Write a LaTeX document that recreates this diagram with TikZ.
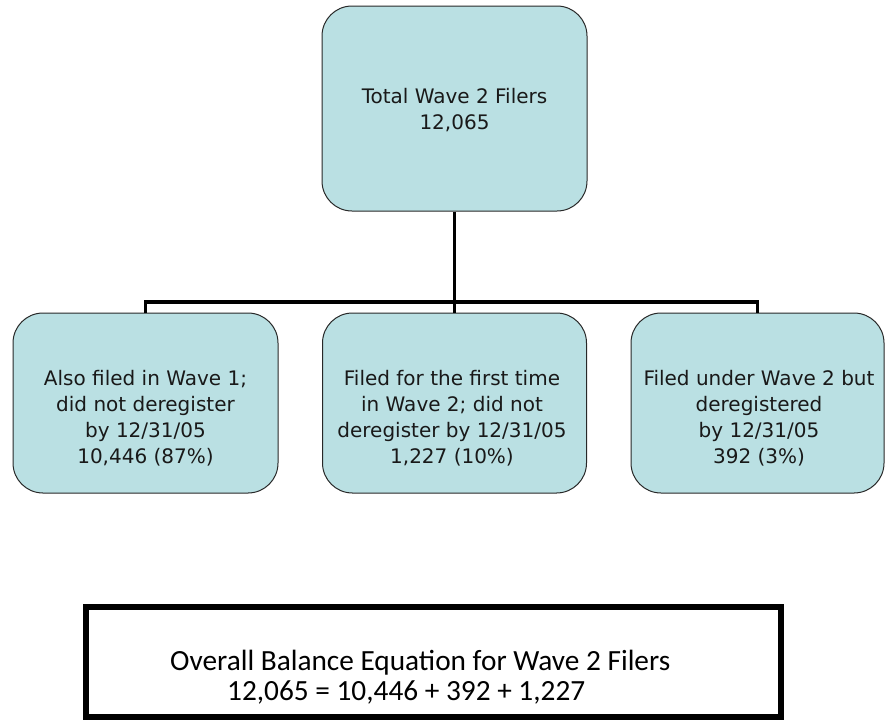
\documentclass[tikz,border=0pt]{standalone}
\usepackage{fontspec}
\setmainfont{DejaVu Sans}
\newfontfamily\calfont{Carlito}
\definecolor{boxfill}{RGB}{186,224,227}
\definecolor{boxline}{RGB}{40,40,40}
\begin{document}
\begin{tikzpicture}[x=1pt,y=-1pt,
  rbox/.style={draw=boxline, line width=1pt, fill=boxfill, rounded corners=30pt, inner sep=0pt},
  btext/.style={align=center, font=\fontsize{20}{26}\selectfont, inner sep=0pt, text=black!90},
  eqtext/.style={anchor=base west, inner sep=0pt, font=\calfont\fontsize{29.3}{30}\selectfont},
  conn/.style={line width=3.2pt, black}]
\useasboundingbox (0,0) rectangle (885,721);
% boxes
\node[rbox, minimum width=265pt, minimum height=205pt] (top) at (454.5,108.5) {};
\node[rbox, minimum width=265pt, minimum height=180pt] (c1) at (145.5,403) {};
\node[rbox, minimum width=264pt, minimum height=180pt] (c2) at (454.5,403) {};
\node[rbox, minimum width=253pt, minimum height=180pt] (c3) at (757.5,403) {};
% texts
\node[btext] (ttop) at (454.5,110) {Total Wave 2 Filers\\12,065};
\node[btext] (t1) at (145.5,418) {Also filed in Wave 1;\\did not deregister\\by 12/31/05\\10,446 (87\%)};
\node[btext] (t2) at (452,418) {Filed for the first time\\in Wave 2; did not\\deregister by 12/31/05\\1,227 (10\%)};
\node[btext] (t3) at (759,418) {Filed under Wave 2 but\\deregistered\\by 12/31/05\\392 (3\%)};
% connectors
\coordinate (bus) at (454.5,302);
\draw[conn] (top.south) -- (bus);
\draw[conn] (c1.north) |- (bus);
\draw[conn] (c2.north) -- (bus);
\draw[conn] (c3.north) |- (bus);
% bottom box
\node[draw=black, line width=6pt, minimum width=695pt, minimum height=110pt, inner sep=0pt] (eq) at (433.5,662) {};
\node[eqtext] (eq1) at (170,670) {Overall Balance Equation for Wave 2 Filers};
\node[eqtext] (eq2) at (227,700) {12,065 = 10,446 + 392 + 1,227};
\end{tikzpicture}
\end{document}
